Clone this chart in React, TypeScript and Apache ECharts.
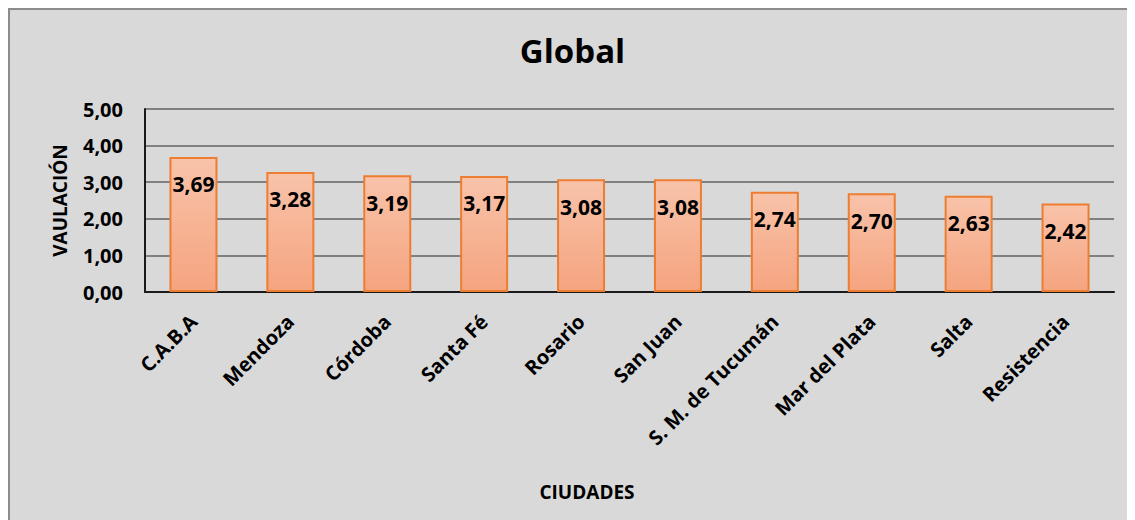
import React, { useEffect, useRef } from "react";
import * as echarts from "echarts";

const categories = [
  "C.A.B.A",
  "Mendoza",
  "Córdoba",
  "Santa Fé",
  "Rosario",
  "San Juan",
  "S. M. de Tucumán",
  "Mar del Plata",
  "Salta",
  "Resistencia",
];
const values = [3.69, 3.28, 3.19, 3.17, 3.08, 3.08, 2.74, 2.7, 2.63, 2.42];
const titleText = "Global";
const yAxisName = "VAULACIÓN";
const xAxisName = "CIUDADES";

const FONT = "'Open Sans', sans-serif";
const fmt = (v: number) => v.toFixed(2).replace(".", ",");

export default function App() {
  const ref = useRef<HTMLDivElement>(null);
  useEffect(() => {
    if (!ref.current) return;
    const chart = echarts.init(ref.current, null, { renderer: "svg" });
    chart.setOption({
      animation: false,
      backgroundColor: "#d9d9d9",
      title: {
        text: titleText,
        left: "center",
        top: 19,
        textStyle: { fontFamily: FONT, fontWeight: "bold", fontSize: 33, color: "#000" },
      },
      grid: { left: 135, right: 21, top: 99, bottom: 228, containLabel: false },
      graphic: [
        {
          type: "text",
          x: 577,
          y: 482,
          style: {
            text: xAxisName,
            fontFamily: FONT,
            fontWeight: "bold",
            fontSize: 19,
            fill: "#000",
            textAlign: "center",
            textVerticalAlign: "middle",
          },
        },
      ],
      xAxis: {
        type: "category",
        data: categories,
        axisLine: { show: true, lineStyle: { color: "#1a1a1a", width: 2 } },
        axisTick: { show: false },
        axisLabel: {
          rotate: 45,
          interval: 0,
          margin: 26,
          fontFamily: FONT,
          fontWeight: "bold",
          fontSize: 20,
          color: "#000",
        },
      },
      yAxis: {
        type: "value",
        min: 0,
        max: 5,
        interval: 1,
        name: yAxisName,
        nameLocation: "middle",
        nameGap: 76,
        nameTextStyle: { fontFamily: FONT, fontWeight: "bold", fontSize: 19, color: "#000" },
        axisLine: { show: true, lineStyle: { color: "#1a1a1a", width: 2 } },
        axisTick: { show: false },
        splitLine: { lineStyle: { color: "#808080", width: 2 } },
        axisLabel: {
          margin: 22,
          fontFamily: FONT,
          fontWeight: "bold",
          fontSize: 20,
          color: "#000",
          formatter: (v: number) => fmt(v),
        },
      },
      series: [
        {
          type: "bar",
          data: values,
          barWidth: 48,
          itemStyle: {
            color: new echarts.graphic.LinearGradient(0, 0, 0, 1, [
              { offset: 0, color: "#f8c3aa" },
              { offset: 1, color: "#f5a47f" },
            ]),
            borderColor: "#ed7d31",
            borderWidth: 2,
          },
          label: {
            show: true,
            position: "insideTop",
            distance: 17,
            fontFamily: FONT,
            fontWeight: "bold",
            fontSize: 21,
            color: "#000",
            formatter: (p: any) => fmt(p.value),
          },
        },
      ],
    });
    return () => chart.dispose();
  }, []);
  return (
    <div
      style={{
        width: 1127,
        height: 512,
        boxSizing: "border-box",
        borderLeft: "2px solid #8c8c8c",
        borderTop: "2px solid #8c8c8c",
        background: "#d9d9d9",
      }}
    >
      <div ref={ref} style={{ width: 1125, height: 510 }} />
    </div>
  );
}
